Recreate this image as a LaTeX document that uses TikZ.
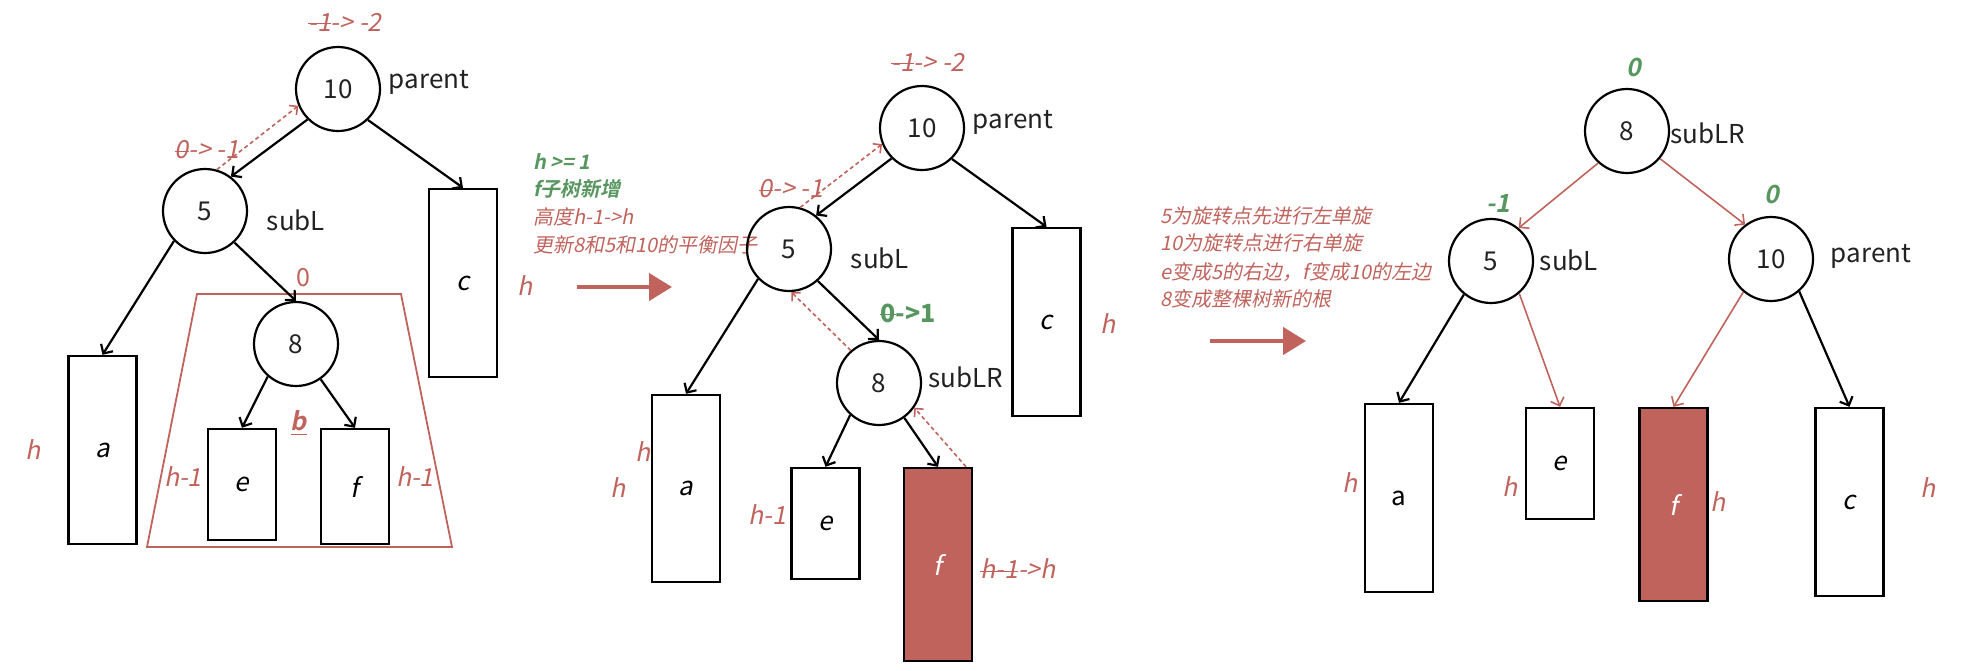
\documentclass[tikz,border=0pt]{standalone}
\usepackage{fontspec}
\setmainfont{Noto Sans CJK SC}[AutoFakeSlant=0.2, BoldItalicFont={Noto Sans CJK SC Bold}, BoldItalicFeatures={FakeSlant=0.2}]
\usepackage{xcolor}
\usetikzlibrary{arrows.meta}
\definecolor{hred}{RGB}{192,99,92}
\definecolor{hgreen}{RGB}{87,150,95}
\definecolor{ink}{RGB}{34,34,34}
\newsavebox\strkbox
\newcommand{\strk}[1]{\sbox\strkbox{#1}\usebox\strkbox\llap{\rule[0.5ex]{\wd\strkbox}{0.8pt}}}
\def\boxw{34pt}
\def\tallh{94pt}
\def\shorth{55.5pt}
\def\longh{96.5pt}

\begin{document}
\begin{tikzpicture}[x=0.5pt, y=-0.5pt,
	bal/.style={circle, draw, line width=1.1pt, minimum size=42pt, inner sep=0pt, text=ink, font=\fontsize{13}{15}\selectfont},
	stree/.style={draw, line width=1.2pt, minimum width=\boxw, inner sep=0pt, font=\itshape\fontsize{13}{15}\selectfont},
	hot/.style={stree, fill=hred, text=white},
	tag/.style={text=ink, inner sep=0pt, font=\fontsize{13}{15}\selectfont},
	hl/.style={text=hred, inner sep=0pt, font=\itshape\fontsize{12.5}{15}\selectfont},
	gain/.style={text=hgreen, inner sep=0pt, font=\bfseries\itshape\fontsize{12.5}{15}\selectfont},
	note/.style={text=hred, inner sep=0pt, anchor=west, font=\itshape\fontsize{10}{12}\selectfont},
	link/.style={-{Straight Barb[length=3.5pt,width=7pt]}, line width=1.1pt},
	rlink/.style={link, draw=hred, line width=0.8pt},
	upd/.style={-{Straight Barb[length=3pt,width=6pt]}, draw=hred, line width=0.8pt, dash pattern=on 2pt off 1.5pt},
	bigarrow/.style={-{Triangle[length=11.5pt,width=13.5pt]}, draw=hred, line width=2.2pt}]
	\useasboundingbox (0,0) rectangle (1968,670);

	\draw[hred, line width=0.9pt] (197,294) -- (401,294) -- (452,547) -- (147,547) -- cycle;
	\node[bal] (r1) at (338,89) {10};
	\node[bal] (s1) at (205,211) {5};
	\node[bal] (l1) at (296,344) {8};
	\node[stree, minimum height=\tallh] (a1) at (102.5,450) {a};
	\node[stree, minimum height=\tallh] (c1) at (463,283) {c};
	\node[stree, minimum height=\shorth] (e1) at (242,484.5) {e};
	\node[stree, minimum height=57.5pt] (f1) at (355,486.5) {f};
	\node[tag] (p1) at (429,82) {parent};
	\node[tag] (q1) at (296,220) {subL};
	\node[hl] (k1) at (345,22) {\strk{-1}-> -2};
	\node[hl] (j1) at (207,150) {\strk{0}-> -1};
	\node[hl, font=\fontsize{12.5}{15}\selectfont] (z1) at (303,278) {0};
	\node[hl, font=\bfseries\itshape\fontsize{12.5}{15}\selectfont] (b1) at (299,423) {\underline{b}};
	\node[hl] (ha1) at (33,450) {h};
	\node[hl] (he1) at (183,477) {h-1};
	\node[hl] (hf1) at (415,477) {h-1};
	\node[hl] (hc1) at (525,286) {h};
	\draw[link] (r1.225) -- (s1.53);
	\draw[link] (r1.314) -- (c1.north);
	\draw[link] (s1.224) -- (a1.north);
	\draw[link] (s1.313) -- (l1.north);
	\draw[link] (l1.229) -- (e1.north);
	\draw[link] (l1.305) -- (f1.north);
	\draw[upd] (s1.74) -- (r1.203);

	\coordinate (m1) at (577,287);
	\coordinate (m2) at (672,287);
	\draw[bigarrow] (m1) -- (m2);
	\node[note, font=\bfseries\itshape\fontsize{10}{12}\selectfont, text=hgreen] (n1) at (533,162) {h >= 1};
	\node[note, font=\bfseries\itshape\fontsize{10}{12}\selectfont, text=hgreen] (n2) at (533,189) {f子树新增};
	\node[note] (n3) at (533,217) {高度h-1->h};
	\node[note] (n4) at (533,245) {更新8和5和10的平衡因子};

	\node[bal] (r2) at (922,128) {10};
	\node[bal] (s2) at (789,249) {5};
	\node[bal] (l2) at (879,383) {8};
	\node[stree, minimum height=93.5pt] (a2) at (686,488.5) {a};
	\node[stree, minimum height=\tallh] (c2) at (1046.5,322) {c};
	\node[stree, minimum height=\shorth] (e2) at (825.5,523.5) {e};
	\node[hot, minimum height=\longh] (f2) at (938,564.5) {f};
	\node[tag] (p2) at (1013,122) {parent};
	\node[tag] (q2) at (880,258) {subL};
	\node[tag] (w2) at (966,377) {subLR};
	\node[hl] (k2) at (928,62) {\strk{-1}-> -2};
	\node[hl] (j2) at (791,189) {\strk{0}-> -1};
	\node[gain, font=\bfseries\fontsize{12.5}{15}\selectfont] (g2) at (908,313) {\strk{0}->1};
	\node[hl] (ha2) at (643,452) {h};
	\node[hl] (hb2) at (618,488) {h};
	\node[hl] (he2) at (767,515) {h-1};
	\node[hl] (hf2) at (1018,569) {\strk{h-1}->h};
	\node[hl] (hc2) at (1108,324) {h};
	\draw[link] (r2.225) -- (s2.51);
	\draw[link] (r2.314) -- (c2.north);
	\draw[link] (s2.224) -- (a2.north);
	\draw[link] (s2.312) -- (l2.north);
	\draw[link] (l2.228) -- (e2.north);
	\draw[link] (l2.306) -- (f2.north);
	\draw[upd] (s2.75) -- (r2.202);
	\draw[upd] (l2.131) -- (s2.273);
	\draw[upd] (f2.74) -- (l2.325);

	\coordinate (m3) at (1210,341);
	\coordinate (m4) at (1306,341);
	\draw[bigarrow] (m3) -- (m4);
	\node[note] (n5) at (1160,216) {5为旋转点先进行左单旋};
	\node[note] (n6) at (1160,243) {10为旋转点进行右单旋};
	\node[note] (n7) at (1160,272) {e变成5的右边，f变成10的左边};
	\node[note] (n8) at (1160,299) {8变成整棵树新的根};

	\node[bal] (l3) at (1627,131) {8};
	\node[bal] (s3) at (1491,261) {5};
	\node[bal] (r3) at (1771,259) {10};
	\node[stree, minimum height=\tallh] (a3) at (1399,498) {\upshape a};
	\node[stree, minimum height=\shorth] (e3) at (1560,463.5) {e};
	\node[hot, minimum height=\longh] (f3) at (1673.5,504.5) {f};
	\node[stree, minimum height=\tallh] (c3) at (1849.5,502) {c};
	\node[tag] (w3) at (1708,133) {subLR};
	\node[tag] (q3) at (1569,260) {subL};
	\node[tag] (p3) at (1871,256) {parent};
	\node[gain] (g3) at (1634,67) {0};
	\node[gain] (gs3) at (1498,203) {-1};
	\node[gain] (gr3) at (1772,194) {0};
	\node[hl] (ha3) at (1350,483) {h};
	\node[hl] (he3) at (1510,487) {h};
	\node[hl] (hf3) at (1718,502) {h};
	\node[hl] (hc3) at (1928,488) {h};
	\draw[rlink] (l3.228) -- (s3.50);
	\draw[rlink] (l3.320) -- (r3.127);
	\draw[link] (s3.231) -- (a3.north);
	\draw[rlink] (s3.311) -- (e3.north);
	\draw[rlink] (r3.230) -- (f3.north);
	\draw[link] (r3.311) -- (c3.north);
\end{tikzpicture}
\end{document}
